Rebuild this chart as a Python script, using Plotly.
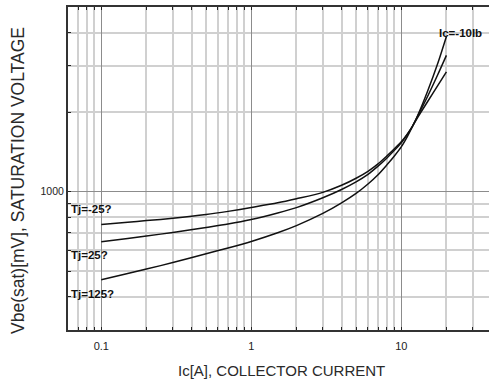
import plotly.graph_objects as go
import math

# Data
ic = [0.1, 0.15, 0.2, 0.3, 0.5, 0.7, 1, 1.5, 2, 3, 4, 5, 6, 7, 8, 9, 10, 11, 11.7, 13, 15, 17.5, 20]
vbe_m25 = [752, 767, 778, 794, 820, 843, 872, 908, 941, 995, 1058, 1125, 1195, 1275, 1365, 1455, 1545, 1655, 1745, 1930, 2195, 2520, 2840]
vbe_25 = [647, 666, 680, 702, 733, 755, 785, 831, 871, 949, 1020, 1090, 1164, 1250, 1340, 1435, 1531, 1652, 1745, 1957, 2298, 2770, 3280]
vbe_125 = [465, 491, 510, 540, 583, 613, 649, 700, 745, 828, 908, 986, 1070, 1160, 1262, 1366, 1478, 1620, 1735, 1970, 2406, 3056, 3870]
series_names = ["Tj=-25?", "Tj=25?", "Tj=125?"]
curve_label = "Ic=-10Ib"

x_major = [0.1, 1, 10]
x_major_text = ["0.1", "1", "10"]
x_minor = [0.07, 0.08, 0.09, 0.2, 0.3, 0.4, 0.5, 0.6, 0.7, 0.8, 0.9,
           2, 3, 4, 5, 6, 7, 8, 9, 20, 30]
y_major = [1000]
y_major_text = ["1000"]
y_minor = [400, 500, 600, 700, 800, 900, 2000, 3000, 4000]

x_title = "Ic[A], COLLECTOR CURRENT"
y_title = "Vbe(sat)[mV], SATURATION VOLTAGE"

FONT = "Arial, 'Liberation Sans', sans-serif"

fig = go.Figure()
for ys in (vbe_m25, vbe_25, vbe_125):
    fig.add_trace(go.Scatter(x=ic, y=ys, mode="lines",
                             line=dict(color="#111111", width=1.5, shape="spline", smoothing=0.8),
                             showlegend=False, hoverinfo="skip"))

fig.update_layout(
    width=489, height=383,
    margin=dict(l=68, r=0, t=7, b=53),
    paper_bgcolor="white", plot_bgcolor="white",
    font=dict(family=FONT, color="#222222"),
)

fig.update_xaxes(
    type="log", range=[math.log10(0.06), 1.585],
    tickvals=x_major, ticktext=x_major_text,
    tickfont=dict(size=11, color="#222222"), ticklabelstandoff=5,
    showgrid=True, gridcolor="#8c8c8c", gridwidth=1,
    ticks="inside", ticklen=3, tickcolor="#222222",
    showline=True, linecolor="#333333", linewidth=2, mirror="allticks",
    zeroline=False,
    minor=dict(tickvals=x_minor, showgrid=True, gridcolor="#d0d0d0", gridwidth=1.5,
               ticks="inside", ticklen=3, tickcolor="#222222"),
    automargin=False,
)
fig.update_yaxes(
    type="log", range=[math.log10(300), math.log10(5000)],
    tickvals=y_major, ticktext=y_major_text,
    tickfont=dict(size=10.5, color="#222222"),
    showgrid=True, gridcolor="#8c8c8c", gridwidth=1,
    ticks="inside", ticklen=3, tickcolor="#222222",
    showline=True, linecolor="#333333", linewidth=2, mirror=False,
    zeroline=False,
    minor=dict(tickvals=y_minor, showgrid=True, gridcolor="#d0d0d0", gridwidth=1.5,
               ticks="inside", ticklen=3, tickcolor="#222222"),
    automargin=False,
)

# axis titles as annotations for exact placement
fig.add_annotation(xref="paper", yref="paper", x=(281 - 68) / 421, y=(330 - 370) / 323,
                   text=x_title, showarrow=False, xanchor="center", yanchor="middle",
                   font=dict(size=15, color="#2a2a2a", family=FONT))
fig.add_annotation(xref="paper", yref="paper", x=(18 - 68) / 421, y=(330 - 181) / 323,
                   text=y_title, showarrow=False, xanchor="center", yanchor="middle",
                   textangle=-90, font=dict(size=17.5, color="#2a2a2a", family=FONT))

label_y = [862, 579, 412]
for name, yv in zip(series_names, label_y):
    fig.add_annotation(x=math.log10(0.0609), y=math.log10(yv), text="<b>" + name + "</b>",
                       showarrow=False, xanchor="left", yanchor="middle",
                       font=dict(size=11.5, color="#111111", family=FONT))
fig.add_annotation(x=math.log10(17.3), y=math.log10(4000), text="<b>" + curve_label + "</b>",
                   showarrow=False, xanchor="left", yanchor="middle",
                   font=dict(size=11.5, color="#111111", family=FONT))

fig.write_html("out.html")
